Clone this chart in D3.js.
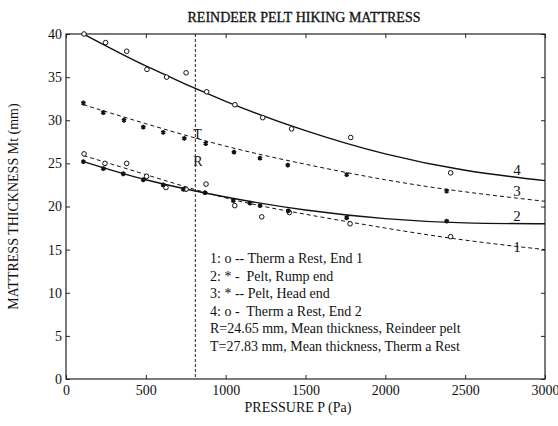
<!DOCTYPE html>
<html lang="en">
<head>
<meta charset="utf-8">
<style>
    body { margin: 0; background: #fff; }
    text { font-family: "Liberation Serif", "Times New Roman", serif; fill: #111; }
</style>
<script src="https://d3js.org/d3.v7.min.js"></script>
</head>
<body>
<script>
    var width = 558, height = 426;
    var plotLeft = 66, plotRight = 545, plotTop = 34, plotBottom = 379;

    // fitted curves
    var fitP = [110, 500, 1000, 1500, 2000, 2500, 3000];
    var fit1 = [25.9, 23.7, 21.0, 19.1, 17.5, 16.1, 15.0];
    var fit2 = [25.2, 23.1, 21.1, 19.6, 18.6, 18.1, 18.0];
    var fit3 = [31.8, 29.6, 27.0, 24.9, 23.1, 21.7, 20.6];
    var fit4 = [40.0, 36.3, 32.2, 28.8, 26.1, 24.2, 23.0];

    // measured points
    var s1P = [113, 244, 380, 505, 626, 752, 877, 1057, 1226, 1399, 1779, 2409];
    var s1M = [26.1, 25.0, 25.0, 23.5, 22.2, 22.0, 22.6, 20.1, 18.8, 19.3, 18.0, 16.5];
    var s2P = [109, 234, 359, 484, 609, 735, 871, 1048, 1152, 1215, 1392, 1758, 2384];
    var s2M = [25.2, 24.4, 23.8, 23.1, 22.5, 22.0, 21.6, 20.7, 20.4, 20.1, 19.5, 18.7, 18.3];
    var s3P = [109, 234, 363, 484, 609, 741, 875, 1052, 1215, 1389, 1758, 2384];
    var s3M = [32.0, 30.9, 30.0, 29.2, 28.6, 27.9, 27.3, 26.3, 25.6, 24.8, 23.7, 21.8];
    var s4P = [113, 248, 380, 507, 630, 752, 881, 1058, 1232, 1413, 1783, 2409];
    var s4M = [40.0, 39.0, 38.0, 35.9, 35.0, 35.5, 33.3, 31.8, 30.3, 29.0, 28.0, 23.9];

    var curveNames = ["1", "2", "3", "4"];
    var curveNameM = [15.3, 18.9, 21.8, 24.3];
    var curveNameP = 2825;

    var meanP = 810;          // dashed vertical line
    var meanR = 24.65, meanT = 27.83;

    var legendLines = [
        "1: o -- Therm a Rest, End 1",
        "2: * -  Pelt, Rump end",
        "3: * -- Pelt, Head end",
        "4: o -  Therm a Rest, End 2",
        "R=24.65 mm, Mean thickness, Reindeer pelt",
        "T=27.83 mm, Mean thickness, Therm a Rest"
    ];
    var xTicks = [0, 500, 1000, 1500, 2000, 2500, 3000];
    var yTicks = [0, 5, 10, 15, 20, 25, 30, 35, 40];

    var svg = d3.select("body").append("svg")
        .attr("width", width)
        .attr("height", height);

    var x = d3.scaleLinear().domain([0, 3000]).range([plotLeft, plotRight]);
    var y = d3.scaleLinear().domain([0, 40]).range([plotBottom, plotTop]);

    // axes, ticks pointing inward like matlab
    svg.append("g")
        .attr("transform", "translate(0," + plotBottom + ")")
        .call(d3.axisBottom(x).tickValues(xTicks).tickFormat(d3.format("d"))
            .tickSizeInner(-4).tickSizeOuter(0).tickPadding(6))
        .call(function(g) { g.select(".domain").remove(); });
    svg.append("g")
        .attr("transform", "translate(0," + plotTop + ")")
        .call(d3.axisTop(x).tickValues(xTicks).tickSizeInner(-4).tickSizeOuter(0).tickFormat(""))
        .call(function(g) { g.select(".domain").remove(); });
    svg.append("g")
        .attr("transform", "translate(" + plotLeft + ",0)")
        .call(d3.axisLeft(y).tickValues(yTicks).tickSizeInner(-4).tickSizeOuter(0).tickPadding(4))
        .call(function(g) { g.select(".domain").remove(); });
    svg.append("g")
        .attr("transform", "translate(" + plotRight + ",0)")
        .call(d3.axisRight(y).tickValues(yTicks).tickSizeInner(-4).tickSizeOuter(0).tickFormat(""))
        .call(function(g) { g.select(".domain").remove(); });

    svg.selectAll(".tick text")
        .attr("font-size", 14)
        .attr("fill", "#111");
    svg.selectAll(".tick line").attr("stroke", "#222");

    svg.append("rect")
        .attr("x", plotLeft).attr("y", plotTop)
        .attr("width", plotRight - plotLeft).attr("height", plotBottom - plotTop)
        .attr("fill", "none").attr("stroke", "#222").attr("stroke-width", 1.2);

    // vertical mean-pressure line
    svg.append("line")
        .attr("x1", x(meanP)).attr("x2", x(meanP))
        .attr("y1", y(40)).attr("y2", y(0))
        .attr("stroke", "#222").attr("stroke-width", 1)
        .attr("stroke-dasharray", "3,2");

    svg.append("text").attr("x", x(meanP) - 2).attr("y", y(meanT))
        .attr("font-size", 14).text("T");
    svg.append("text").attr("x", x(meanP) - 2).attr("y", y(meanR))
        .attr("font-size", 14).text("R");

    var line = d3.line()
        .x(function(d) { return x(d[0]); })
        .y(function(d) { return y(d[1]); })
        .curve(d3.curveNatural);

    var fits = [
        { m: fit1, dash: "4,3", w: 1 },
        { m: fit2, dash: null, w: 1.4 },
        { m: fit3, dash: "4,3", w: 1 },
        { m: fit4, dash: null, w: 1.4 }
    ];
    fits.forEach(function(f) {
        svg.append("path")
            .datum(d3.zip(fitP, f.m))
            .attr("d", line)
            .attr("fill", "none")
            .attr("stroke", "#111")
            .attr("stroke-width", f.w)
            .attr("stroke-dasharray", f.dash);
    });

    // open circles: series 1 and 4
    [[s1P, s1M], [s4P, s4M]].forEach(function(s) {
        svg.append("g").selectAll("circle")
            .data(d3.zip(s[0], s[1]))
            .enter().append("circle")
            .attr("cx", function(d) { return x(d[0]); })
            .attr("cy", function(d) { return y(d[1]); })
            .attr("r", 2.3)
            .attr("fill", "#fff")
            .attr("stroke", "#111")
            .attr("stroke-width", 1);
    });

    // asterisks: series 2 and 3
    var star = d3.symbol().type(d3.symbolAsterisk).size(16);
    [[s2P, s2M], [s3P, s3M]].forEach(function(s) {
        svg.append("g").selectAll("path")
            .data(d3.zip(s[0], s[1]))
            .enter().append("path")
            .attr("d", star)
            .attr("transform", function(d) { return "translate(" + x(d[0]) + "," + y(d[1]) + ")"; })
            .attr("fill", "none")
            .attr("stroke", "#111")
            .attr("stroke-width", 1.7);
    });

    // curve numbers at the right
    svg.selectAll(".cname")
        .data(curveNames)
        .enter().append("text")
        .attr("class", "cname")
        .attr("x", x(curveNameP))
        .attr("y", function(d, i) { return y(curveNameM[i]); })
        .attr("dy", "0.35em")
        .attr("text-anchor", "middle")
        .attr("font-size", 15)
        .text(function(d) { return d; });

    // legend block
    svg.append("g").selectAll("text")
        .data(legendLines)
        .enter().append("text")
        .attr("x", 210)
        .attr("y", function(d, i) { return 258 + i * 17.6; })
        .attr("dy", "0.35em")
        .attr("font-size", 14)
        .style("white-space", "pre")
        .text(function(d) { return d; });

    svg.append("text")
        .attr("x", 304).attr("y", 22)
        .attr("text-anchor", "middle")
        .attr("font-size", 14)
        .attr("stroke", "#111").attr("stroke-width", 0.3)
        .text("REINDEER PELT HIKING MATTRESS");

    svg.append("text")
        .attr("x", 298).attr("y", 412)
        .attr("text-anchor", "middle")
        .attr("font-size", 14)
        .text("PRESSURE P (Pa)");

    svg.append("text")
        .attr("transform", "translate(18," + (plotTop + plotBottom) / 2 + ") rotate(-90)")
        .attr("text-anchor", "middle")
        .attr("font-size", 14)
        .text("MATTRESS THICKNESS Mt (mm)");
</script>
</body>
</html>
